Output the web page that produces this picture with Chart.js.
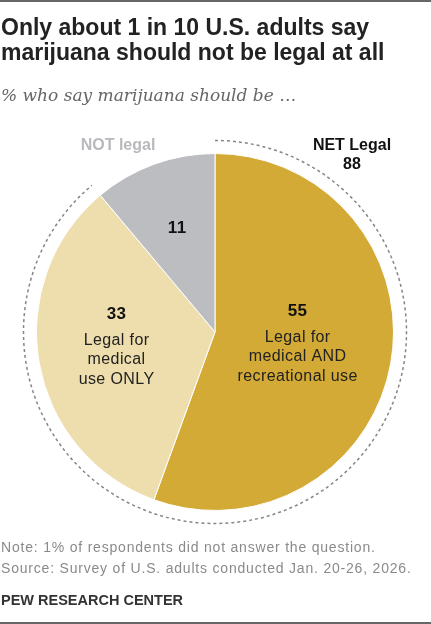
<!DOCTYPE html>
<html>
<head>
<meta charset="utf-8">
<script src="https://cdn.jsdelivr.net/npm/chart.js@4.4.1/dist/chart.umd.min.js"></script>
<style>
  html,body{margin:0;padding:0;background:#fff;}
  #wrap{position:relative;width:431px;height:624px;overflow:hidden;background:#fff;}
  #topline{position:absolute;left:0;top:0;width:431px;height:2px;background:#666;}
  #botline{position:absolute;left:0;top:622px;width:431px;height:2px;background:#666;}
  .t{position:absolute;left:1px;white-space:nowrap;}
  #title{top:15px;font-family:"Liberation Sans",Arial,sans-serif;font-weight:bold;font-size:23px;line-height:25px;color:#222;}
  #sub{top:85px;font-family:"DejaVu Serif",Georgia,serif;font-style:italic;font-size:17px;color:#666;}
  #note{top:537px;font-family:"Liberation Sans",Arial,sans-serif;font-size:14px;line-height:21px;letter-spacing:0.8px;color:#8a8a8a;}
  #pew{top:592px;font-family:"Liberation Sans",Arial,sans-serif;font-weight:bold;font-size:14.5px;color:#333;}
  canvas{position:absolute;left:0;top:0;}
</style>
</head>
<body>
<div id="wrap">
  <canvas id="c" width="431" height="624"></canvas>
  <div id="topline"></div>
  <div id="botline"></div>
  <div class="t" id="title">Only about 1 in 10 U.S. adults say<br>marijuana should not be legal at all</div>
  <div class="t" id="sub">% who say marijuana should be …</div>
  <div class="t" id="note">Note: 1% of respondents did not answer the question.<br>Source: Survey of U.S. adults conducted Jan. 20-26, 2026.</div>
  <div class="t" id="pew">PEW RESEARCH CENTER</div>
</div>
<script>
const categories = ["Legal for medical AND recreational use", "Legal for medical use ONLY", "NOT legal"];
const values = [55, 33, 11];
const sliceLabels = [["Legal for", "medical AND", "recreational use"], ["Legal for", "medical", "use ONLY"], []];
const colors = ["#D3AA35", "#EEDEAD", "#BCBDC0"];
const netLegal = 88;
const labelRadius = [0.47, 0.56, 0.62];

const labelPlugin = {
  id: 'pewLabels',
  afterDatasetsDraw(chart) {
    const ctx = chart.ctx;
    const meta = chart.getDatasetMeta(0);
    const arcs = meta.data;
    const a0 = arcs[0];
    const cx = a0.x, cy = a0.y, R = a0.outerRadius;
    // dashed NET arc around the legal slices
    ctx.save();
    ctx.beginPath();
    ctx.setLineDash([3, 3]);
    ctx.lineWidth = 1.5;
    ctx.strokeStyle = '#858585';
    ctx.arc(cx, cy, R + 13, arcs[0].startAngle, arcs[1].endAngle);
    ctx.stroke();
    ctx.restore();

    ctx.save();
    ctx.textAlign = 'center';
    ctx.textBaseline = 'middle';
    if ('letterSpacing' in ctx) ctx.letterSpacing = '0.4px';
    arcs.forEach((arc, i) => {
      const mid = (arc.startAngle + arc.endAngle) / 2;
      const r = R * labelRadius[i];
      const x = cx + r * Math.cos(mid);
      const y = cy + r * Math.sin(mid);
      const lines = sliceLabels[i];
      const lh = 19.5;
      const top = y - (lines.length * lh + 6) / 2 - 3;
      ctx.fillStyle = '#111';
      ctx.font = 'bold 17px "Liberation Sans", Arial, sans-serif';
      ctx.fillText(String(values[i]), x, lines.length ? top : y);
      ctx.font = '16px "Liberation Sans", Arial, sans-serif';
      ctx.fillStyle = '#222';
      lines.forEach((ln, j) => {
        ctx.fillText(ln, x, top + 26 + j * lh);
      });
    });
    if ('letterSpacing' in ctx) ctx.letterSpacing = '0px';
    // outside labels
    ctx.font = 'bold 16px "Liberation Sans", Arial, sans-serif';
    ctx.fillStyle = '#b8b9bc';
    ctx.fillText('NOT legal', cx - 97, cy - 186);
    ctx.fillStyle = '#111';
    ctx.fillText('NET Legal', cx + 137, cy - 186);
    ctx.fillText(String(netLegal), cx + 137, cy - 167);
    ctx.restore();
  }
};

new Chart(document.getElementById('c'), {
  type: 'pie',
  data: {
    labels: categories,
    datasets: [{
      data: values,
      backgroundColor: colors,
      borderColor: '#ffffff',
      borderWidth: 1
    }]
  },
  options: {
    responsive: false,
    animation: false,
    layout: { padding: { left: 36, right: 37, top: 153, bottom: 113 } },
    plugins: { legend: { display: false }, tooltip: { enabled: false } }
  },
  plugins: [labelPlugin]
});
</script>
</body>
</html>
